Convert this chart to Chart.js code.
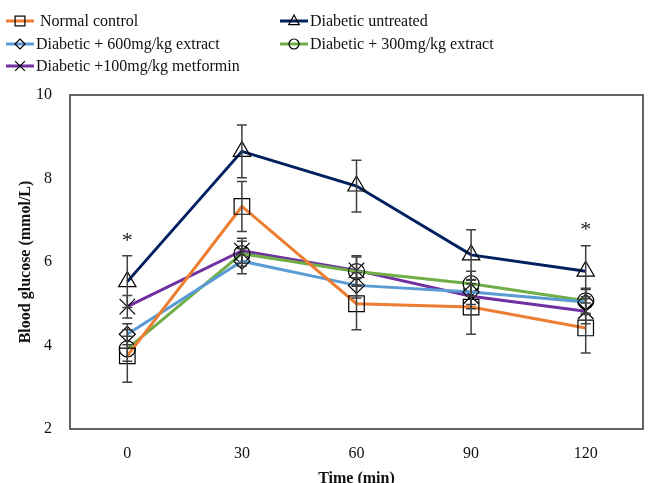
<!DOCTYPE html>
<html>
<head>
<meta charset="utf-8">
<script src="https://cdn.jsdelivr.net/npm/chart.js@4"></script>
<style>
  body { margin: 0; background: #fff; }
  #wrap { position: relative; width: 652px; height: 483px; }
  .leg { position: absolute; display: flex; align-items: center;
         font-family: 'Liberation Serif', 'Times New Roman', serif;
         font-size: 16px; color: #111; white-space: pre; line-height: 1; }
  .leg svg { margin-right: 2px; }
</style>
</head>
<body>
<div id="wrap">
  <canvas id="chart" width="652" height="483"></canvas>
  <div id="legend"></div>
</div>
<script>
// ── Data ──────────────────────────────────────────────────────────────
const timeLabels = ['0', '30', '60', '90', '120'];

const normalControl    = [3.75, 7.33, 5.00, 4.92, 4.42];
const normalControlErr = [0.63, 0.60, 0.62, 0.65, 0.60];

const untreated    = [5.53, 8.65, 7.82, 6.17, 5.78];
const untreatedErr = [0.62, 0.63, 0.62, 0.60, 0.61];

const extract600    = [4.27, 6.02, 5.44, 5.28, 5.04];
const extract600Err = [0.25, 0.30, 0.30, 0.30, 0.30];

const extract300    = [3.92, 6.20, 5.77, 5.48, 5.07];
const extract300Err = [0.30, 0.30, 0.35, 0.30, 0.30];

const metformin    = [4.93, 6.27, 5.80, 5.18, 4.82];
const metforminErr = [0.27, 0.30, 0.35, 0.30, 0.30];

// time points (index) where untreated differs significantly
const starIdx = [0, 4];

const SERIF = "'Liberation Serif', 'Times New Roman', serif";

const series = [
  { label: 'Normal control',               data: normalControl, err: normalControlErr, color: '#ED7D31', style: 'rect',     r: 11, legR: 7 },
  { label: 'Diabetic untreated',           data: untreated,     err: untreatedErr,     color: '#002060', style: 'triangle', r: 10, legR: 6 },
  { label: 'Diabetic + 600mg/kg extract',  data: extract600,    err: extract600Err,    color: '#5B9BD5', style: 'rectRot',  r: 8,  legR: 5 },
  { label: 'Diabetic + 300mg/kg extract',  data: extract300,    err: extract300Err,    color: '#70AD47', style: 'circle',   r: 8,  legR: 5 },
  { label: 'Diabetic +100mg/kg metformin', data: metformin,     err: metforminErr,     color: '#7030A0', style: 'crossRot', r: 11, legR: 7 },
];

// ── Legend (HTML) ─────────────────────────────────────────────────────
const legPos = [
  { x: 6,   y: 21, text: ' Normal control' },
  { x: 280, y: 21, text: 'Diabetic untreated' },
  { x: 6,   y: 44, text: 'Diabetic + 600mg/kg extract' },
  { x: 280, y: 44, text: 'Diabetic + 300mg/kg extract' },
  { x: 6,   y: 66, text: 'Diabetic +100mg/kg metformin' },
];

function markerSvg(style, cx, cy, r) {
  const a = 'fill="none" stroke="#000" stroke-width="1.2"';
  if (style === 'rect')     return `<rect x="${cx-r*0.7}" y="${cy-r*0.7}" width="${r*1.4}" height="${r*1.4}" ${a}/>`;
  if (style === 'triangle') return `<polygon points="${cx},${cy-r} ${cx+r*0.87},${cy+r*0.6} ${cx-r*0.87},${cy+r*0.6}" ${a}/>`;
  if (style === 'rectRot')  return `<polygon points="${cx},${cy-r} ${cx+r},${cy} ${cx},${cy+r} ${cx-r},${cy}" ${a}/>`;
  if (style === 'circle')   return `<circle cx="${cx}" cy="${cy}" r="${r}" ${a}/>`;
  const d = r * 0.7;
  return `<path d="M${cx-d} ${cy-d}L${cx+d} ${cy+d}M${cx+d} ${cy-d}L${cx-d} ${cy+d}" ${a}/>`;
}

document.getElementById('legend').innerHTML = series.map((s, i) => {
  const p = legPos[i];
  return `<div class="leg" style="left:${p.x}px;top:${p.y - 9}px;height:18px">
    <svg width="28" height="16"><line x1="0" y1="8" x2="28" y2="8" stroke="${s.color}" stroke-width="3"/>${markerSvg(s.style, 14, 8, s.legR)}</svg>${p.text}</div>`;
}).join('');

// ── Plugins ───────────────────────────────────────────────────────────
const errorBars = {
  id: 'errorBars',
  afterDatasetsDraw(chart) {
    const { ctx, scales: { x, y } } = chart;
    ctx.save();
    ctx.strokeStyle = '#404040';
    ctx.lineWidth = 1.5;
    series.forEach(s => {
      s.data.forEach((v, i) => {
        const px = x.getPixelForValue(i);
        const y1 = y.getPixelForValue(v + s.err[i]);
        const y2 = y.getPixelForValue(v - s.err[i]);
        ctx.beginPath();
        ctx.moveTo(px, y1); ctx.lineTo(px, y2);
        ctx.moveTo(px - 5, y1); ctx.lineTo(px + 5, y1);
        ctx.moveTo(px - 5, y2); ctx.lineTo(px + 5, y2);
        ctx.stroke();
      });
    });
    // significance marks
    ctx.fillStyle = '#222';
    ctx.font = `22px ${SERIF}`;
    ctx.textAlign = 'center';
    ctx.textBaseline = 'middle';
    starIdx.forEach(i => {
      const px = x.getPixelForValue(i);
      const py = y.getPixelForValue(untreated[i] + untreatedErr[i]) - 18;
      ctx.fillText('*', px, py + 3);
    });
    ctx.restore();
  },
  afterDraw(chart) {
    const { ctx, chartArea: a } = chart;
    ctx.save();
    ctx.strokeStyle = '#333';
    ctx.lineWidth = 1.5;
    ctx.strokeRect(a.left, a.top, a.right - a.left, a.bottom - a.top);
    ctx.restore();
  }
};

// ── Chart ─────────────────────────────────────────────────────────────
new Chart(document.getElementById('chart'), {
  type: 'line',
  data: {
    labels: timeLabels,
    datasets: series.map(s => ({
      label: s.label,
      data: s.data,
      borderColor: s.color,
      borderWidth: 3,
      tension: 0,
      fill: false,
      pointStyle: s.style,
      pointRadius: s.r,
      pointHoverRadius: s.r,
      pointBackgroundColor: 'rgba(0,0,0,0)',
      pointBorderColor: '#000',
      pointBorderWidth: 1.2,
    }))
  },
  options: {
    responsive: false,
    animation: false,
    layout: { autoPadding: false, padding: { top: 95, right: 9, left: 0, bottom: 0 } },
    plugins: { legend: { display: false }, tooltip: { enabled: false } },
    scales: {
      x: {
        offset: true,
        grid: { display: false },
        border: { display: false },
        ticks: { color: '#111', font: { family: SERIF, size: 16 }, padding: 7 },
        title: { display: true, text: 'Time (min)', color: '#111',
                 font: { family: SERIF, size: 16, weight: 'bold' }, padding: { top: 0, bottom: -5 } },
        afterFit: s => { s.height = 54; }
      },
      y: {
        min: 2, max: 10,
        grid: { display: false },
        border: { display: false },
        ticks: { stepSize: 2, color: '#111', font: { family: SERIF, size: 16 }, padding: 10 },
        title: { display: true, text: 'Blood glucose (mmol/L)', color: '#111',
                 font: { family: SERIF, size: 16, weight: 'bold' }, padding: { top: 16, bottom: 0 } },
        afterFit: s => { s.width = 70; }
      }
    }
  },
  plugins: [errorBars]
});
</script>
</body>
</html>
